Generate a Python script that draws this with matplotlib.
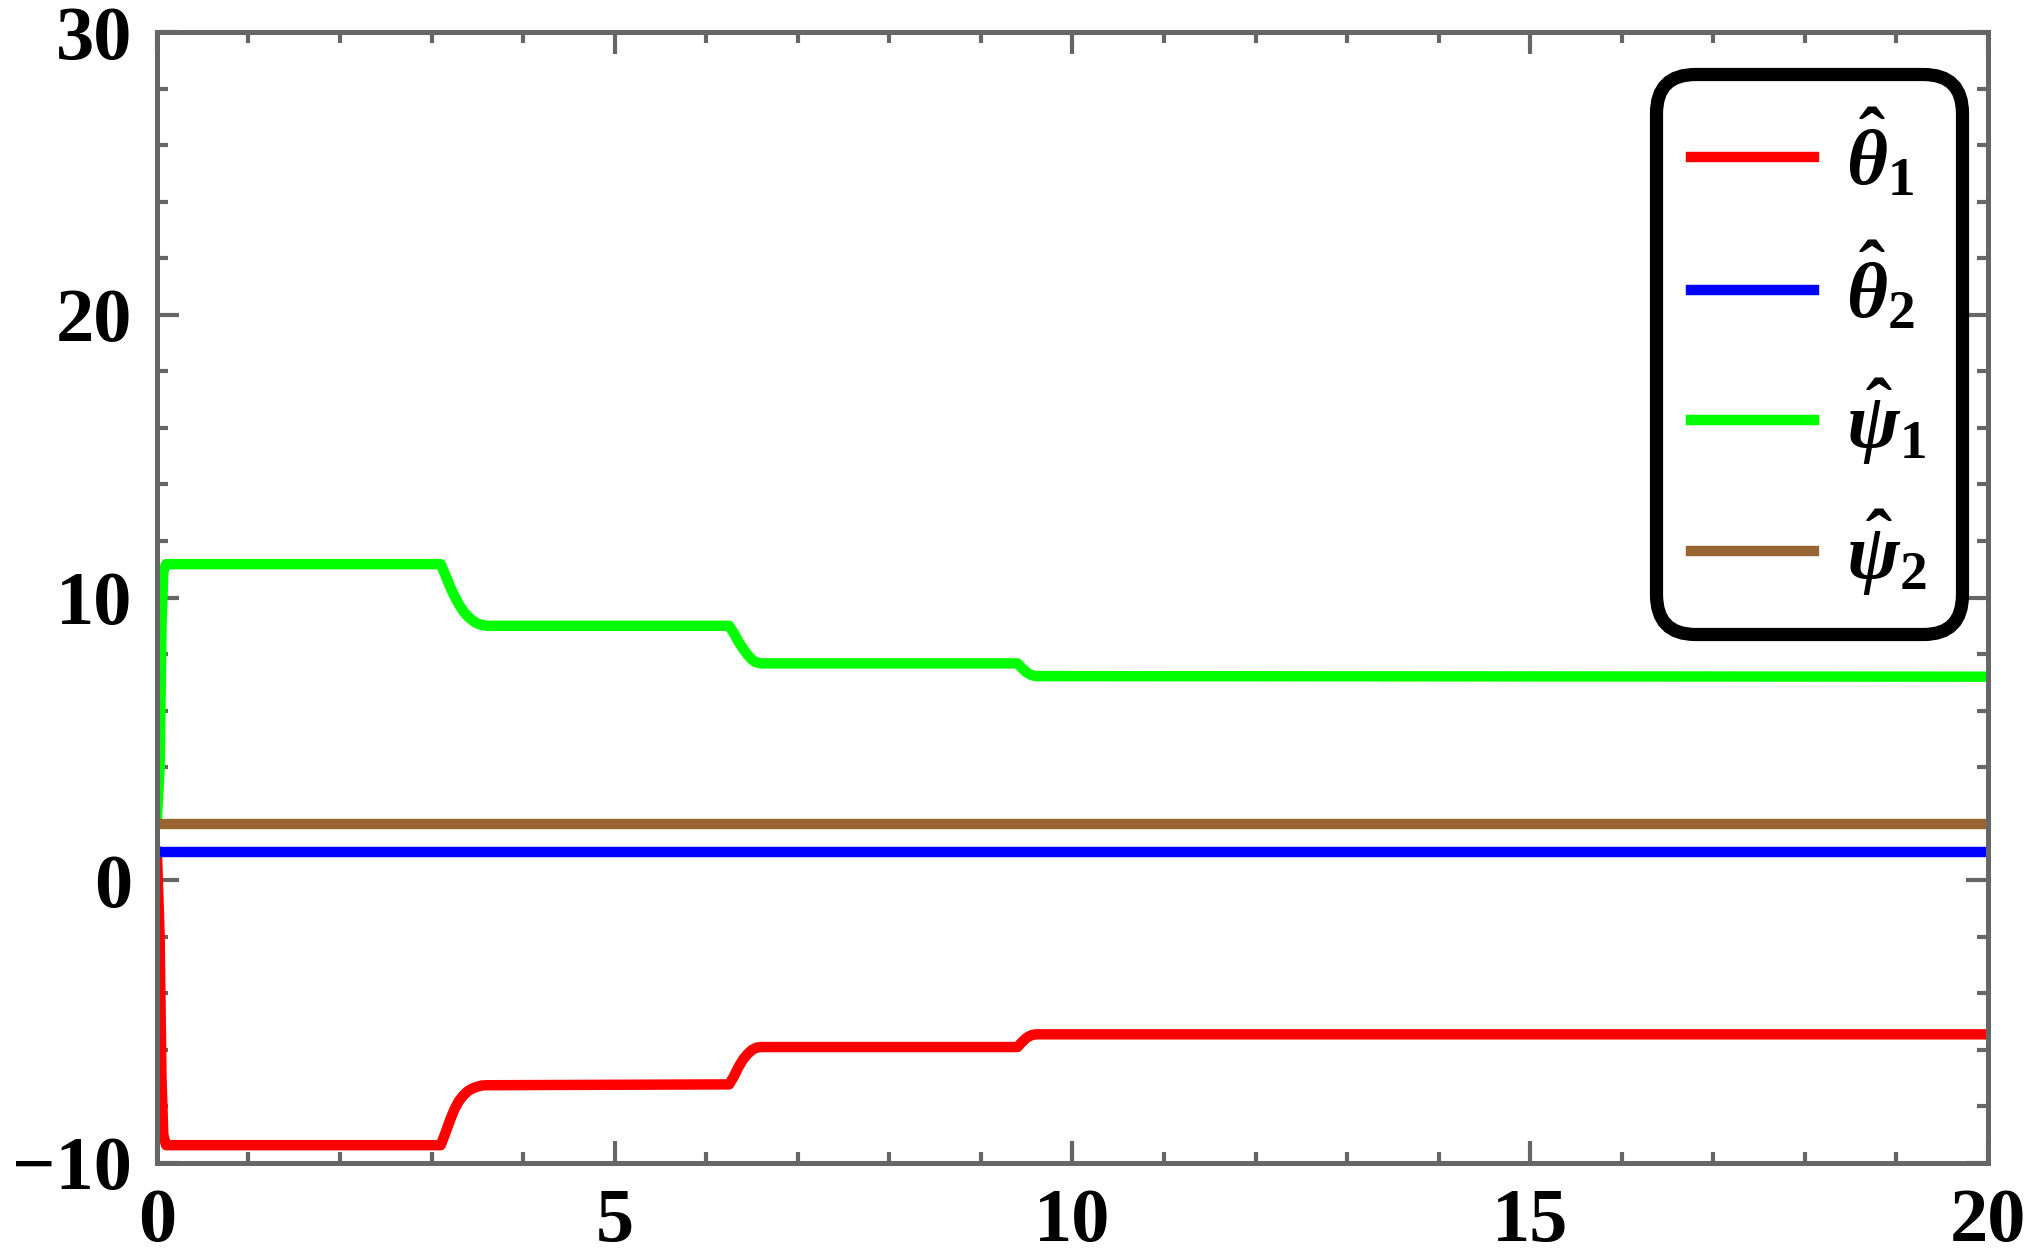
import numpy as np
import matplotlib.pyplot as plt
from matplotlib.ticker import MultipleLocator

# data
t_theta1 = [0.0, 0.03, 0.05, 0.07, 0.1, 3.1, 3.15, 3.2, 3.25, 3.3, 3.35, 3.4, 3.45, 3.5, 3.55, 3.6,
            6.25, 6.3, 6.35, 6.4, 6.45, 6.5, 6.55, 6.6, 9.4, 9.45, 9.5, 9.55, 9.6, 20.0]
theta1 = [1.0, -2.0, -7.0, -9.0, -9.37, -9.37, -8.95, -8.5, -8.1, -7.8, -7.6, -7.45, -7.36, -7.3, -7.26, -7.25,
          -7.22, -6.95, -6.62, -6.35, -6.15, -6.0, -5.92, -5.9, -5.9, -5.72, -5.57, -5.48, -5.45, -5.45]

t_psi1 = [0.0, 0.03, 0.05, 0.07, 0.1, 3.1, 3.15, 3.2, 3.25, 3.3, 3.35, 3.4, 3.45, 3.5, 3.55, 3.6,
          6.25, 6.3, 6.35, 6.4, 6.45, 6.5, 6.55, 6.6, 9.4, 9.45, 9.5, 9.55, 9.6, 20.0]
psi1 = [2.2, 4.0, 9.0, 10.9, 11.18, 11.18, 10.8, 10.4, 10.05, 9.75, 9.5, 9.32, 9.18, 9.08, 9.03, 9.0,
        9.0, 8.75, 8.45, 8.2, 7.98, 7.8, 7.7, 7.67, 7.67, 7.5, 7.35, 7.26, 7.22, 7.2]

t_const = [0.0, 20.0]
theta2 = [1.0, 1.0]
psi2 = [2.0, 2.0]

labels = [r'$\hat{\theta}_1$', r'$\hat{\theta}_2$', r'$\hat{\psi}_1$', r'$\hat{\psi}_2$']
colors = ['#ff0000', '#0000ff', '#00ff00', '#996633']

plt.rcParams['font.family'] = 'Liberation Serif'
plt.rcParams['font.weight'] = 'bold'
plt.rcParams['mathtext.fontset'] = 'custom'
plt.rcParams['mathtext.rm'] = 'Liberation Serif:bold'
plt.rcParams['mathtext.it'] = 'Liberation Serif:italic:bold'
plt.rcParams['mathtext.bf'] = 'Liberation Serif:bold'

fig = plt.figure(figsize=(20.3, 12.57), dpi=100)
ax = fig.add_axes([0.0773, 0.0748, 0.902, 0.8997])

lw = 7.5
ax.plot(t_theta1, theta1, color=colors[0], lw=lw, label=labels[0])
ax.plot(t_const, theta2, color=colors[1], lw=lw, label=labels[1])
ax.plot(t_psi1, psi1, color=colors[2], lw=lw, label=labels[2])
ax.plot(t_const, psi2, color=colors[3], lw=lw, label=labels[3])

ax.set_xlim(0, 20)
ax.set_ylim(-10, 30)
ax.xaxis.set_major_locator(MultipleLocator(5))
ax.xaxis.set_minor_locator(MultipleLocator(1))
ax.yaxis.set_major_locator(MultipleLocator(10))
ax.yaxis.set_minor_locator(MultipleLocator(2))

gray = '#666666'
for s in ax.spines.values():
    s.set_color(gray)
    s.set_linewidth(3.6)
ax.tick_params(which='both', direction='in', top=True, right=True, color=gray, width=3.0,
               labelsize=55, labelcolor='black')
ax.tick_params(which='major', length=16)
ax.tick_params(which='minor', length=8)
ax.tick_params(axis='x', which='major', pad=18)
ax.tick_params(axis='y', which='major', pad=18)
for lab in ax.get_xticklabels() + ax.get_yticklabels():
    lab.set_fontweight('bold')

leg = ax.legend(loc='upper right', bbox_to_anchor=(0.986, 0.963), fontsize=57,
                handlelength=1.55, handletextpad=0.4, labelspacing=0.52, borderpad=0.45,
                borderaxespad=0, fancybox=True, framealpha=1)
frame = leg.get_frame()
frame.set_edgecolor('black')
frame.set_linewidth(9.5)
frame.set_boxstyle('round', pad=0.0, rounding_size=0.5)

fig.savefig('out.png', dpi=100)
